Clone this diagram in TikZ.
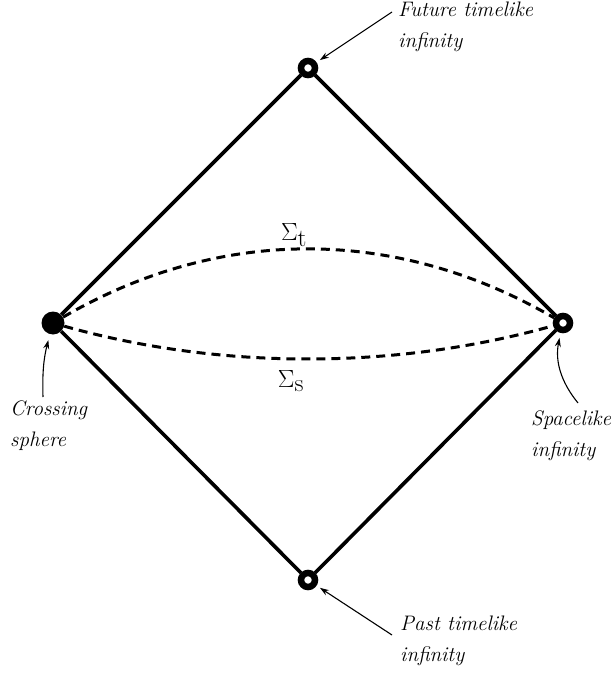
\documentclass[tikz,border=0pt]{standalone}
\usepackage{amsmath}
\usepackage{tikz}
\usetikzlibrary{arrows.meta}

\begin{document}
\begin{tikzpicture}[x=1pt, y=-1pt,
    edge/.style={line width=3.6pt},
    slice/.style={line width=3pt, dash pattern=on 9pt off 6pt},
    openpt/.style={circle, draw, line width=6.5pt, fill=white, minimum size=14pt, inner sep=0pt},
    fullpt/.style={circle, fill=black, minimum size=23pt, inner sep=0pt},
    lbl/.style={font=\fontsize{21}{31}\selectfont\itshape, align=left, anchor=west, inner sep=0pt},
    sig/.style={font=\fontsize{27}{27}\selectfont, inner sep=0pt},
    pointer/.style={-{Stealth[length=9pt, width=6pt, inset=3pt]}, line width=1.1pt}]
    \useasboundingbox (0,0) rectangle (615,676);

    % corners of the diagram
    \node[openpt] (fut) at (308,68) {};
    \node[fullpt] (cross) at (53,323) {};
    \node[openpt] (spc) at (563,323) {};
    \node[openpt] (past) at (308,580) {};

    % null boundaries
    \draw[edge] (cross) -- (fut);
    \draw[edge] (fut) -- (spc);
    \draw[edge] (spc) -- (past);
    \draw[edge] (past) -- (cross);

    % slices
    \draw[slice] (cross) .. controls (220,226) and (396,226) .. (spc);
    \draw[slice] (cross) .. controls (220,370) and (396,370) .. (spc);
    \node[sig] (sigt) at (294,235) {$\Sigma_{\textstyle\mathrm{t}}$};
    \node[sig] (sigs) at (291,381) {$\Sigma_{\textstyle\mathrm{s}}$};

    % labels
    \node[lbl] (futlbl) at (398,27) {Future timelike\\infinity};
    \node[lbl] (croslbl) at (10,426) {Crossing\\sphere};
    \node[lbl] (spclbl) at (531,436) {Spacelike\\infinity};
    \node[lbl] (pastlbl) at (400,641) {Past timelike\\infinity};

    % pointers
    \coordinate (futtail) at (392,12);
    \coordinate (crostail) at (43,397);
    \coordinate (spctail) at (578,403);
    \coordinate (pasttail) at (392,635);
    \draw[pointer, shorten >=4pt] (futtail) -- (fut);
    \draw[pointer, shorten >=6pt] (crostail) to[bend left=8] (cross);
    \draw[pointer, shorten >=5pt] (spctail) to[bend left=25] (spc);
    \draw[pointer, shorten >=4pt] (pasttail) -- (past);
\end{tikzpicture}
\end{document}
